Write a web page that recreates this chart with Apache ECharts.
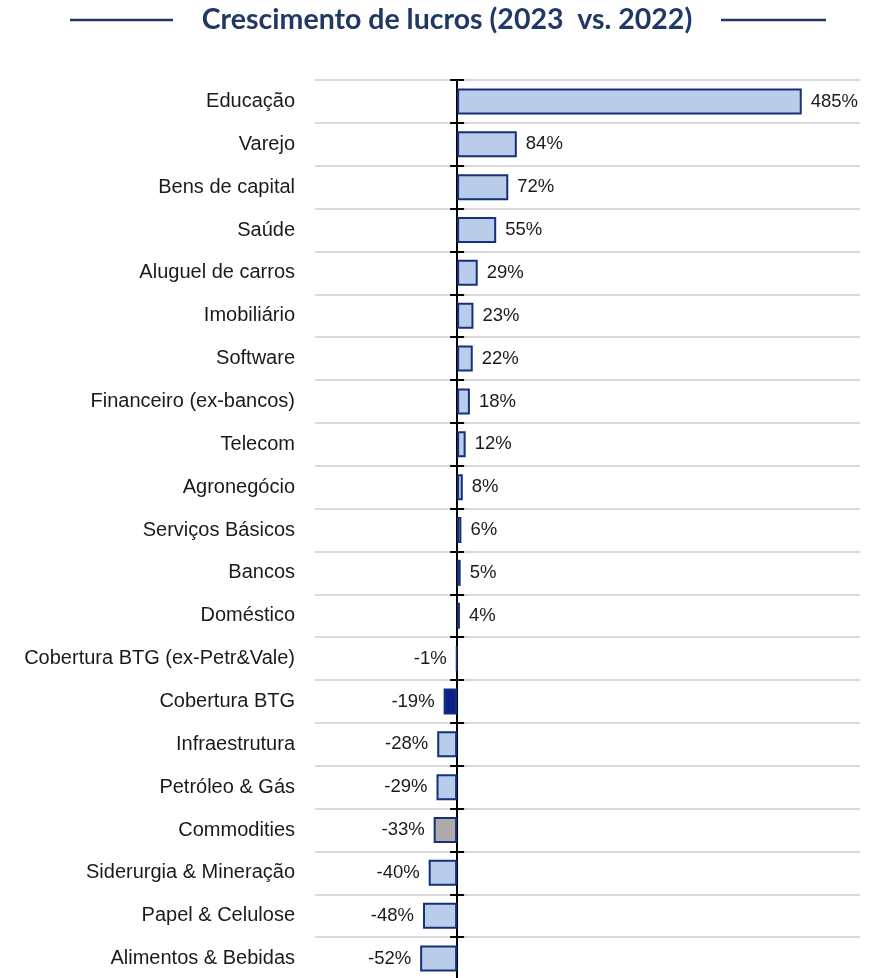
<!DOCTYPE html>
<html>
<head>
<meta charset="utf-8">
<script src="https://cdn.jsdelivr.net/npm/echarts@6/dist/echarts.min.js"></script>
<style>
  html, body { margin: 0; padding: 0; background: #fff; }
  #chart { width: 879px; height: 978px; }
</style>
</head>
<body>
<div id="chart"></div>
<script>
var categories = ['Educação', 'Varejo', 'Bens de capital', 'Saúde', 'Aluguel de carros', 'Imobiliário',
  'Software', 'Financeiro (ex-bancos)', 'Telecom', 'Agronegócio', 'Serviços Básicos', 'Bancos',
  'Doméstico', 'Cobertura BTG (ex-Petr&Vale)', 'Cobertura BTG', 'Infraestrutura', 'Petróleo & Gás',
  'Commodities', 'Siderurgia & Mineração', 'Papel & Celulose', 'Alimentos & Bebidas'];
var growth = [485, 84, 72, 55, 29, 23, 22, 18, 12, 8, 6, 5, 4, -1, -19, -28, -29, -33, -40, -48, -52];
var titleText = 'Crescimento de lucros (2023  vs. 2022)';

var navy = '#1F3864';
var barBorder = '#14307A';
var labelFont = '"Liberation Sans", Arial, sans-serif';

var chart = echarts.init(document.getElementById('chart'));

var barData = growth.map(function (v, i) {
  var fill = '#B9CDEA';
  if (categories[i] === 'Cobertura BTG') fill = '#0E2188';
  if (categories[i] === 'Commodities') fill = '#AEAAAA';
  return {
    value: v,
    itemStyle: { color: fill },
    label: { position: v < 0 ? 'left' : 'right' }
  };
});

var catAxisBase = {
  type: 'category',
  data: categories,
  inverse: true,
  position: 'left'
};

var option = {
  animation: false,
  graphic: [
    { type: 'line', shape: { x1: 70, y1: 20, x2: 173, y2: 20 }, style: { stroke: navy, lineWidth: 2.5 } },
    { type: 'line', shape: { x1: 721, y1: 20, x2: 826, y2: 20 }, style: { stroke: navy, lineWidth: 2.5 } },
    {
      type: 'text', x: 447, y: 20,
      style: {
        text: titleText, fill: navy, align: 'center', verticalAlign: 'middle',
        font: 'bold 28.5px Lato'
      }
    }
  ],
  grid: { left: 315, right: 19, top: 80, height: 900, outerBoundsMode: 'none', containLabel: false },
  xAxis: [
    { type: 'value', min: -200, max: 567, show: false },
    { type: 'value', min: -200, max: 567, show: false, position: 'top' }
  ],
  yAxis: [
    Object.assign({}, catAxisBase, {
      axisLine: { show: false, onZero: false },
      axisTick: { show: false },
      axisLabel: { margin: 20, color: '#1a1a1a', fontSize: 20, fontFamily: labelFont },
      splitLine: { show: true, lineStyle: { color: '#D9D9D9', width: 2 } }
    }),
    Object.assign({}, catAxisBase, {
      axisLine: { show: true, onZero: true, onZeroAxisIndex: 0, lineStyle: { color: '#000', width: 2 } },
      axisTick: { show: true, length: 7, lineStyle: { color: '#000', width: 2 } },
      axisLabel: { show: false },
      splitLine: { show: false }
    }),
    Object.assign({}, catAxisBase, {
      axisLine: { show: false, onZero: true, onZeroAxisIndex: 0 },
      axisTick: { show: true, inside: true, length: 7, lineStyle: { color: '#000', width: 2 } },
      axisLabel: { show: false },
      splitLine: { show: false }
    })
  ],
  series: [{
    type: 'bar',
    yAxisIndex: 0,
    xAxisIndex: 0,
    data: barData,
    barWidth: 26,
    itemStyle: { borderColor: barBorder, borderWidth: 2 },
    label: {
      show: true,
      distance: 9,
      formatter: '{c}%',
      color: '#1a1a1a',
      fontSize: 18.5,
      fontFamily: labelFont
    }
  }]
};

chart.setOption(option);
</script>
</body>
</html>
